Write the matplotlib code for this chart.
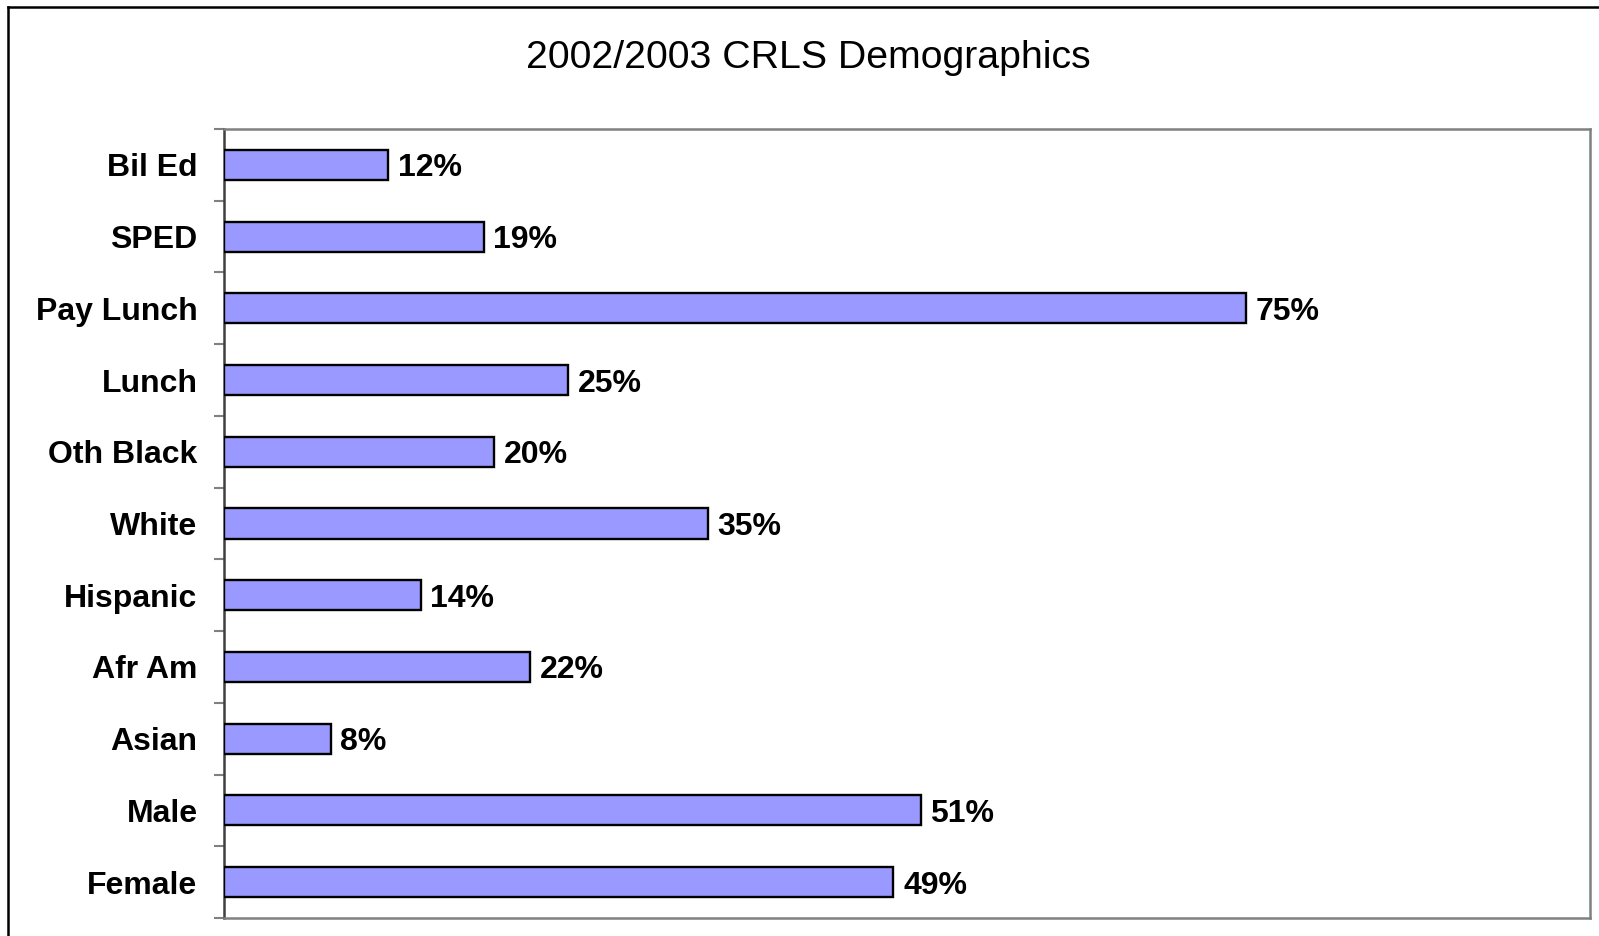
import matplotlib.pyplot as plt
import numpy as np
from matplotlib.lines import Line2D

# data (top to bottom)
categories = ['Bil Ed', 'SPED', 'Pay Lunch', 'Lunch', 'Oth Black', 'White',
              'Hispanic', 'Afr Am', 'Asian', 'Male', 'Female']
values = [12, 19, 74.8, 25.2, 19.8, 35.4, 14.4, 22.4, 7.8, 51, 49]

W, H = 1599, 936
fig = plt.figure(figsize=(W / 100, H / 100), dpi=100)
plt.rcParams['font.family'] = ['Liberation Sans', 'DejaVu Sans']

# plot area in pixel coords
left, right, top, bottom = 224, 1590, 129, 918
ax = fig.add_axes([left / W, 1 - bottom / H, (right - left) / W, (bottom - top) / H])

n = len(categories)
y = np.arange(n)
ax.barh(y, values, height=0.42, color='#9999FF', edgecolor='black', linewidth=1.7, zorder=3)

ax.set_xlim(0, 100)
ax.set_ylim(n - 0.5, -0.5)

# labels on bars
for yi, v in zip(y, values):
    ax.annotate('%d%%' % round(v), (v, yi), xytext=(7, -2.5), textcoords='offset points',
                va='center', ha='left', fontsize=23, fontweight='bold')

# category labels at centres, ticks at boundaries
ax.set_yticks(np.arange(n + 1) - 0.5)
ax.set_yticklabels([])
ax.set_yticks(y, minor=True)
ax.set_yticklabels(categories, minor=True, fontsize=23, fontweight='bold')
ax.tick_params(axis='y', which='minor', length=0, pad=19)
ax.tick_params(axis='y', which='major', length=7.5, width=1.5, color='#808080')
ax.set_xticks([])

for s in ['top', 'right', 'bottom']:
    ax.spines[s].set_color('#808080')
    ax.spines[s].set_linewidth(1.8)
ax.spines['left'].set_color('#404040')
ax.spines['left'].set_linewidth(1.8)

fig.text(808 / W, 1 - 58 / H, '2002/2003 CRLS Demographics', ha='center', va='center', fontsize=28.3)

# outer chart border (only left and top visible)
fig.add_artist(Line2D([8 / W, 8 / W], [0, 1 - 7 / H], color='black', linewidth=1.8))
fig.add_artist(Line2D([8 / W, 1], [1 - 7 / H, 1 - 7 / H], color='black', linewidth=1.8))

plt.savefig('out.png', dpi=100)
